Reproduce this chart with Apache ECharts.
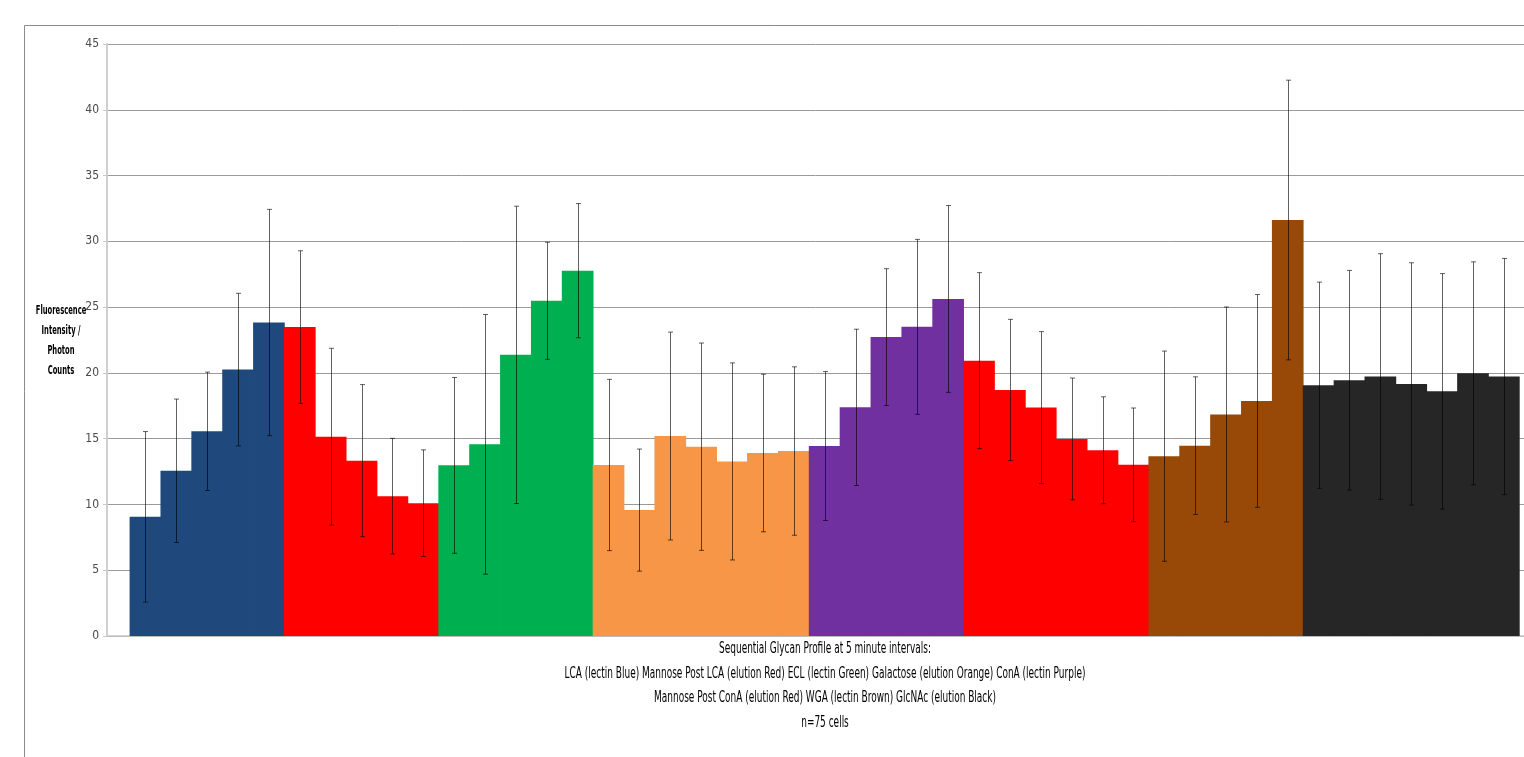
<!DOCTYPE html>
<html><head><meta charset="utf-8">
<script src="https://cdn.jsdelivr.net/npm/echarts@6/dist/echarts.min.js"></script>
<style>html,body{margin:0;padding:0;background:#fff}#c{width:1524px;height:757px}</style>
</head><body><div id="c"></div>
<script>
// ---- data ----
const groupNames = ['LCA (lectin)', 'Mannose Post LCA (elution)', 'ECL (lectin)', 'Galactose (elution)',
  'ConA (lectin)', 'Mannose Post ConA (elution)', 'WGA (lectin)', 'GlcNAc (elution)'];
const groupSizes = [5, 5, 5, 7, 5, 6, 5, 7];
const groupColors = ['#1F497D', '#FF0000', '#00B050', '#F79646', '#7030A0', '#FF0000', '#984807', '#262626'];

const means = [
  9.06, 12.56, 15.56, 20.25, 23.83,
  23.48, 15.15, 13.33, 10.63, 10.10,
  12.97, 14.57, 21.37, 25.48, 27.77,
  13.00, 9.57, 15.20, 14.39, 13.27, 13.91, 14.06,
  14.44, 17.38, 22.72, 23.50, 25.62,
  20.93, 18.70, 17.36, 14.98, 14.12, 13.01,
  13.67, 14.47, 16.84, 17.87, 31.62,
  19.06, 19.44, 19.72, 19.16, 18.60, 19.97, 19.72
];
const errors = [
  6.48, 5.45, 4.50, 5.80, 8.60,
  5.80, 6.72, 5.78, 4.39, 4.05,
  6.68, 9.87, 11.30, 4.45, 5.10,
  6.51, 4.64, 7.90, 7.88, 7.49, 5.99, 6.40,
  5.66, 5.94, 5.20, 6.65, 7.10,
  6.69, 5.37, 5.78, 4.63, 4.06, 4.32,
  7.99, 5.23, 8.17, 8.09, 10.63,
  7.84, 8.35, 9.34, 9.21, 8.95, 8.47, 8.98
];
const yMin = 0, yMax = 45, yStep = 5;
const yTitleLines = ['Fluorescence', 'Intensity /', 'Photon', 'Counts'];
const xTitleLines = [
  'Sequential Glycan Profile at 5 minute intervals:',
  'LCA (lectin Blue) Mannose Post LCA (elution Red) ECL (lectin Green) Galactose (elution Orange) ConA (lectin Purple)',
  'Mannose Post ConA (elution Red) WGA (lectin Brown) GlcNAc (elution Black)',
  'n=75 cells'
];

// ---- build ----
const categories = [];
const barColors = [];
groupSizes.forEach((n, g) => {
  for (let k = 1; k <= n; k++) { categories.push(groupNames[g] + ' ' + k); barColors.push(groupColors[g]); }
});

const FONT = "'Liberation Sans Narrow', 'DejaVu Sans Condensed', sans-serif";
const chart = echarts.init(document.getElementById('c'), null, { renderer: 'canvas' });

const option = {
  animation: false,
  backgroundColor: '#ffffff',
  grid: [
    { left: 107, top: 44, width: 1435, height: 592 },
    { left: 130, top: 44, width: 1389.3, height: 592 }
  ],
  xAxis: [
    { type: 'category', gridIndex: 0, data: [''],
      axisLine: { show: true, lineStyle: { color: '#c8c8c8', width: 1.5 } },
      axisTick: { show: false }, axisLabel: { show: false }, splitLine: { show: false } },
    { type: 'category', gridIndex: 1, data: categories, show: false }
  ],
  yAxis: [
    { type: 'value', gridIndex: 0, min: yMin, max: yMax, interval: yStep,
      axisLine: { show: true, lineStyle: { color: '#d0d0d0', width: 2 } },
      axisTick: { show: true, length: 4, lineStyle: { color: '#c8c8c8' } },
      axisLabel: { color: '#4a4a4a', fontSize: 12, fontFamily: FONT, margin: 8 },
      splitLine: { show: true, lineStyle: { color: '#9a9a9a', width: 1 } } },
    { type: 'value', gridIndex: 1, min: yMin, max: yMax, interval: yStep, show: false,
      splitLine: { show: false } }
  ],
  series: [
    { type: 'custom', name: 'bars', xAxisIndex: 1, yAxisIndex: 1, z: 2,
      data: means.map((v, i) => [i, v]),
      renderItem: function (params, api) {
        const i = api.value(0);
        const topPt = api.coord([i, api.value(1)]);
        const basePt = api.coord([i, 0]);
        const bw = api.size([1, 0])[0];
        const x0 = topPt[0] - bw / 2 - 0.4;
        return { type: 'rect',
          shape: { x: x0, y: topPt[1], width: bw + 0.8, height: basePt[1] - topPt[1] },
          style: { fill: barColors[params.dataIndex] } };
      } },
    { type: 'custom', name: 'error', xAxisIndex: 1, yAxisIndex: 1, z: 5,
      data: means.map((v, i) => [i, v, errors[i]]),
      renderItem: function (params, api) {
        const x = api.value(0), m = api.value(1), e = api.value(2);
        const top = api.coord([x, m + e]);
        const bot = api.coord([x, m - e]);
        const cx = Math.round(top[0]) + 0.5;
        const st = { stroke: 'rgba(0,0,0,0.62)', lineWidth: 1 };
        return { type: 'group', children: [
          { type: 'line', shape: { x1: cx, y1: top[1], x2: cx, y2: bot[1] }, style: st },
          { type: 'line', shape: { x1: cx - 2.5, y1: top[1], x2: cx + 2.5, y2: top[1] }, style: st },
          { type: 'line', shape: { x1: cx - 2.5, y1: bot[1], x2: cx + 2.5, y2: bot[1] }, style: st }
        ] };
      } }
  ],
  graphic: [
    { type: 'rect', silent: true, shape: { x: 24.5, y: 25.5, width: 1600, height: 800 },
      style: { fill: 'none', stroke: '#8a8a8a', lineWidth: 1 }, z: 0 },
    { type: 'text', x: 61, y: 301, scaleX: 0.58, silent: true,
      style: { text: yTitleLines.join('\n'), fill: '#000', font: 'bold 13px ' + FONT,
               textAlign: 'center', lineHeight: 20 } },
    { type: 'text', x: 825, y: 637, scaleX: 0.665, silent: true,
      style: { text: xTitleLines.join('\n'), fill: '#000', font: '15px ' + FONT,
               textAlign: 'center', lineHeight: 24.5 } }
  ]
};
chart.setOption(option);
</script>
</body></html>
